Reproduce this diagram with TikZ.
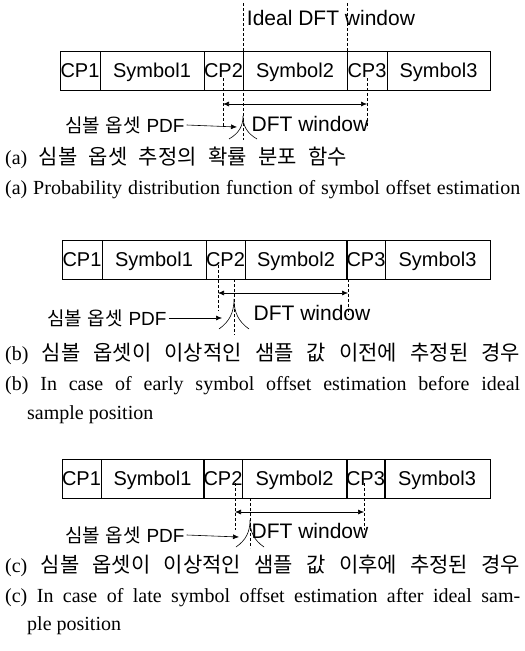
\documentclass[tikz,border=0pt]{standalone}
\usepackage{fontspec}
\setmainfont{Liberation Serif}
\setsansfont{Liberation Sans}
\newfontfamily\kr{Noto Sans CJK KR}
\usetikzlibrary{arrows.meta}
\tikzset{
  cell/.style={draw, line width=0.6pt, minimum height=39pt, inner sep=0pt, anchor=center,
    text depth=0pt, font=\sffamily\fontsize{20}{20}\selectfont},
  dline/.style={line width=0.6pt, dash pattern=on 3pt off 2pt},
  lbl/.style={inner sep=0pt, font=\sffamily\fontsize{21}{21}\selectfont},
  pdflbl/.style={inner sep=0pt, anchor=west, font=\sffamily\fontsize{19}{19}\selectfont},
  captxt/.style={inner sep=0pt, anchor=west, font=\fontsize{20}{20}\selectfont},
  krtxt/.style={inner sep=0pt, anchor=west, font=\fontsize{20}{20}\selectfont},
  arr/.style={-{Latex[length=6pt,width=5pt]}, line width=0.6pt},
  darr/.style={{Latex[length=6pt,width=5pt]}-{Latex[length=6pt,width=5pt]}, line width=0.6pt},
  pdfcurve/.style={line width=0.6pt}
}
\newcommand{\K}[1]{{\kr\fontsize{21}{21}\selectfont #1}}
\newcommand{\cellnode}[6]{% name, y, xl, xr, text, (unused)
  \pgfmathsetmacro{\cx}{(#3+#4)/2}%
  \pgfmathsetmacro{\cw}{#4-#3}%
  \node[cell, minimum width=\cw pt] (#1) at (\cx,#2) {#5};
}
\newcommand{\symrow}[9]{% prefix, y, x0..x6
  \cellnode{#1c1}{#2}{#3}{#4}{CP1}{}
  \cellnode{#1s1}{#2}{#4}{#5}{Symbol1}{}
  \cellnode{#1c2}{#2}{#5}{#6}{CP2}{}
  \cellnode{#1s2}{#2}{#6}{#7}{Symbol2}{}
  \cellnode{#1c3}{#2}{#7}{#8}{CP3}{}
  \cellnode{#1s3}{#2}{#8}{#9}{Symbol3}{}
}
\newcommand{\pdfshape}[4]{% x, peak y, half width, height
  \draw[pdfcurve] (#1-#3,#2+#4) .. controls (#1-#3*0.3,#2+#4*0.75) and (#1,#2+#4*0.45) .. (#1,#2)
     .. controls (#1,#2+#4*0.45) and (#1+#3*0.3,#2+#4*0.75) .. (#1+#3,#2+#4);
}
\newcommand{\pdftext}{{\kr 심볼}\hspace{0.3em}{\kr 옵셋}\hspace{0.3em}PDF}
\begin{document}
\begin{tikzpicture}[x=1pt,y=-1pt]
\useasboundingbox (0,0) rectangle (525,651);

% ---------------- (a)
\node[lbl] (aideal) at (331,18) {Ideal DFT window};
\coordinate (aI1t) at (243,3);  \coordinate (aI1b) at (243,140);
\coordinate (aI2t) at (347,3);  \coordinate (aI2b) at (347,51);
\symrow{a}{70.5}{60}{100}{204}{243}{347}{387}{490}
\draw[dline] (aI1t) -- (aI1b);
\draw[dline] (aI2t) -- (aI2b);
\coordinate (aW1t) at (223,78); \coordinate (aW1b) at (223,128);
\coordinate (aW2t) at (367,78); \coordinate (aW2b) at (367,128);
\draw[dline] (aW1t) -- (aW1b);
\draw[dline] (aW2t) -- (aW2b);
\coordinate (aA1) at (223,104); \coordinate (aA2) at (367,104);
\draw[darr] (aA1) -- (aA2);
\pdfshape{243}{116}{14}{23}
\node[pdflbl] (apdf) at (65,125) {\pdftext};
\coordinate (aP) at (237,127);
\draw[arr] ([xshift=2pt]apdf.east) -- (aP);
\node[lbl] (adft) at (310,124) {DFT window};
\node[krtxt] (akr) at (5,158) {\makebox[342pt][s]{(a) \K{심볼} \K{옵셋} \K{추정의} \K{확률} \K{분포} \K{함수}}};
\node[captxt] (aen) at (5,190) {\makebox[515pt][s]{(a) Probability distribution function of symbol offset estimation}};

% ---------------- (b)
\symrow{b}{259.5}{62}{102}{206}{245}{347}{385}{490}
\coordinate (bW1t) at (218,265); \coordinate (bW1b) at (218,311);
\coordinate (bW2t) at (348,279); \coordinate (bW2b) at (348,315);
\coordinate (bCt) at (234,279);  \coordinate (bCb) at (234,335);
\draw[dline] (bW1t) -- (bW1b);
\draw[dline] (bW2t) -- (bW2b);
\draw[dline] (bCt) -- (bCb);
\coordinate (bA1) at (218,293); \coordinate (bA2) at (348,293);
\draw[darr] (bA1) -- (bA2);
\pdfshape{234}{299}{15}{30}
\node[pdflbl] (bpdf) at (47,318) {\pdftext};
\coordinate (bP) at (222,318);
\draw[arr] ([xshift=2pt]bpdf.east) -- (bP);
\node[lbl] (bdft) at (312,313) {DFT window};
\node[krtxt] (bkr) at (5,354) {\makebox[515pt][s]{(b) \K{심볼} \K{옵셋이} \K{이상적인} \K{샘플} \K{값} \K{이전에} \K{추정된} \K{경우}}};
\node[captxt] (ben1) at (5,386) {\makebox[515pt][s]{(b) In case of early symbol offset estimation before ideal}};
\node[captxt] (ben2) at (27,415) {sample position};

% ---------------- (c)
\symrow{c}{478.5}{62}{101}{204}{242}{347}{384}{490}
\coordinate (cW1t) at (235,483); \coordinate (cW1b) at (235,530);
\coordinate (cW2t) at (364,483); \coordinate (cW2b) at (364,530);
\coordinate (cCt) at (250,498);  \coordinate (cCb) at (250,548);
\draw[dline] (cW1t) -- (cW1b);
\draw[dline] (cW2t) -- (cW2b);
\draw[dline] (cCt) -- (cCb);
\coordinate (cA1) at (235,512); \coordinate (cA2) at (364,512);
\draw[darr] (cA1) -- (cA2);
\pdfshape{250}{520}{14}{27}
\node[pdflbl] (cpdf) at (65,535) {\pdftext};
\coordinate (cP) at (239,537);
\draw[arr] ([xshift=2pt]cpdf.east) -- (cP);
\node[lbl] (cdft) at (310,531) {DFT window};
\node[krtxt] (ckr) at (5,566) {\makebox[515pt][s]{(c) \K{심볼} \K{옵셋이} \K{이상적인} \K{샘플} \K{값} \K{이후에} \K{추정된} \K{경우}}};
\node[captxt] (cen1) at (5,598) {\makebox[515pt][s]{(c) In case of late symbol offset estimation after ideal sam-}};
\node[captxt] (cen2) at (27,626) {ple position};
\end{tikzpicture}
\end{document}
